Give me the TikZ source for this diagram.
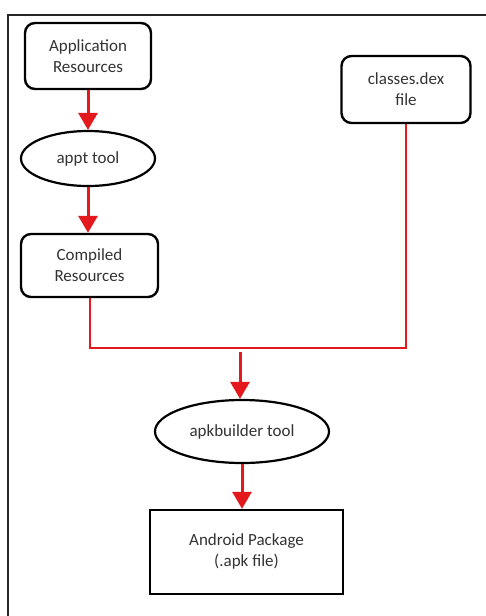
\documentclass[tikz,border=0pt]{standalone}
\usepackage{fontspec}
\setmainfont{Carlito}
\usetikzlibrary{arrows.meta,shapes.geometric}
\definecolor{arrred}{HTML}{E3191E}
\definecolor{txt}{HTML}{333333}
\begin{document}
\begin{tikzpicture}[x=1pt,y=-1pt,
  lbl/.style={text=txt,font=\fontsize{17}{21}\selectfont},
  box/.style={lbl,draw=black,line width=2.4pt,rounded corners=10pt,align=center,inner sep=0pt},
  oval/.style={lbl,draw=black,line width=2.2pt,ellipse,inner sep=0pt},
  sq/.style={lbl,draw=black,line width=2.4pt,align=center,inner sep=0pt},
  flow/.style={draw=arrred,line width=3pt,-{Triangle[width=19pt,length=17pt]}},
  link/.style={draw=arrred,line width=2pt}]
\useasboundingbox (0,0) rectangle (486,616);
\fill[white] (0,0) rectangle (486,616);
\draw[line width=1.5pt,black!85] (8,616) -- (8,15) -- (486,15);

\node[box,minimum width=126pt,minimum height=66pt] (app) at (88,56) {Application\\Resources};
\node[box,minimum width=129pt,minimum height=67pt] (dex) at (406,89.5) {classes.dex\\file};
\node[oval,minimum width=134pt,minimum height=55pt] (appt) at (88,158.5) {appt tool};
\node[box,minimum width=137pt,minimum height=63pt] (comp) at (89.5,265.5) {Compiled\\Resources};
\node[oval,minimum width=174pt,minimum height=63pt] (apkb) at (242,431.5) {apkbuilder tool};
\node[sq,minimum width=193pt,minimum height=84pt] (apk) at (246.5,552) {\raisebox{5pt}{\begin{tabular}{@{}c@{}}Android Package\\(.apk file)\end{tabular}}};

\coordinate (join) at (240,352);
\coordinate (corner) at (406,348);
\draw[flow] (app.south) -- (app.south |- appt.north);
\draw[flow] (appt.south) -- (appt.south |- comp.north);
\draw[link] (comp.south) |- (corner) -- (dex.south);
\draw[flow] (join) -- (apkb.north -| join);
\draw[flow] (apkb.south) -- (apkb.south |- apk.north);
\end{tikzpicture}
\end{document}
